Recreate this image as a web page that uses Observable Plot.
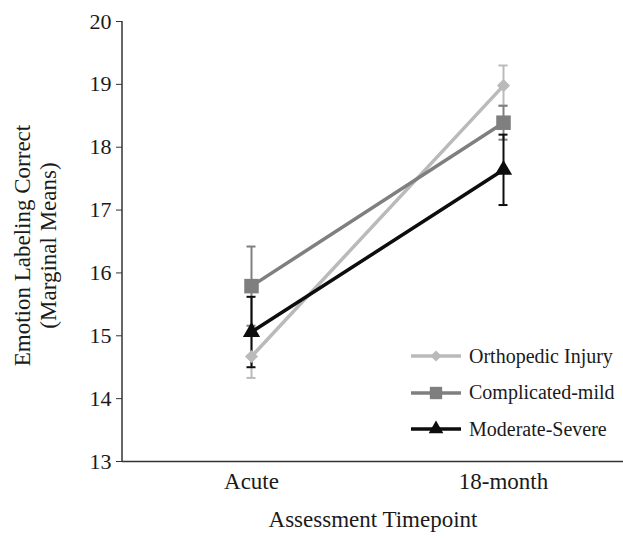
<!DOCTYPE html>
<html>
<head>
<meta charset="utf-8">
<script src="https://cdn.jsdelivr.net/npm/d3@7"></script>
<script src="https://cdn.jsdelivr.net/npm/@observablehq/plot@0.6"></script>
<style>
  html, body { margin: 0; padding: 0; background: #fff; }
  #wrap { position: relative; width: 623px; height: 539px; font-family: "Liberation Serif", "Times New Roman", serif; }
  #legend { position: absolute; left: 410px; top: 338px; color: #1a1a1a; font-size: 20px; }
  .item { display: flex; align-items: center; height: 36.5px; }
  .item svg { margin-right: 7px; }
</style>
</head>
<body>
<div id="wrap"></div>
<script>
const timepoints = ["Acute", "18-month"];
const groups = ["Orthopedic Injury", "Complicated-mild", "Moderate-Severe"];
const orthopedicMeans = [14.67, 18.98];
const orthopedicErrors = [0.34, 0.32];
const mildMeans = [15.79, 18.39];
const mildErrors = [0.63, 0.27];
const severeMeans = [15.06, 17.64];
const severeErrors = [0.56, 0.56];
const yTicks = [13, 14, 15, 16, 17, 18, 19, 20];
const groupColors = ["#bababa", "#7f7f7f", "#0d0d0d"];
const groupSymbols = ["diamond2", "square", "triangle"];
const groupRadius = [5.9, 8.2, 6.4];
const yTitle = "Emotion Labeling Correct\n(Marginal Means)";
const xTitle = "Assessment Timepoint";

const meansByGroup = [orthopedicMeans, mildMeans, severeMeans];
const errorsByGroup = [orthopedicErrors, mildErrors, severeErrors];
const rows = [];
groups.forEach((g, gi) => timepoints.forEach((t, ti) => {
  rows.push({group: g, gi, time: t, mean: meansByGroup[gi][ti],
    lo: meansByGroup[gi][ti] - errorsByGroup[gi][ti], hi: meansByGroup[gi][ti] + errorsByGroup[gi][ti]});
}));

const marks = [
  Plot.ruleY([13], {stroke: "#333", strokeWidth: 1.5}),
  Plot.axisY({ticks: yTicks, tickFormat: d => String(d), tickSize: 6, tickPadding: 5, fontSize: 22, label: null, stroke: "#333"}),
  Plot.axisX({tickSize: 0, tickPadding: 11, fontSize: 23, label: null}),
  Plot.text([yTitle], {frameAnchor: "left", textAnchor: "middle", rotate: -90, dx: -88, dy: 4, lineAnchor: "middle", lineHeight: 1.15, fontSize: 23, fill: "#1a1a1a"}),
  Plot.text([xTitle], {frameAnchor: "bottom", dy: 65, fontSize: 23, fill: "#1a1a1a"})
];
groups.forEach((g, gi) => {
  const d = rows.filter(r => r.gi === gi);
  marks.push(Plot.line(d, {x: "time", y: "mean", stroke: groupColors[gi], strokeWidth: 3.5}));
});
groups.forEach((g, gi) => {
  const d = rows.filter(r => r.gi === gi);
  marks.push(Plot.ruleX(d, {x: "time", y1: "lo", y2: "hi", stroke: groupColors[gi], strokeWidth: 2}));
  marks.push(Plot.ruleY(d, {y: "lo", x1: "time", x2: "time", insetLeft: -4.5, insetRight: -4.5, stroke: groupColors[gi], strokeWidth: 2}));
  marks.push(Plot.ruleY(d, {y: "hi", x1: "time", x2: "time", insetLeft: -4.5, insetRight: -4.5, stroke: groupColors[gi], strokeWidth: 2}));
});
groups.forEach((g, gi) => {
  const d = rows.filter(r => r.gi === gi);
  marks.push(Plot.dot(d, {x: "time", y: "mean", symbol: () => groupSymbols[gi], r: groupRadius[gi], fill: groupColors[gi], stroke: "none"}));
});

const chart = Plot.plot({
  width: 623, height: 539,
  marginLeft: 122, marginRight: 0, marginTop: 21, marginBottom: 78,
  style: {fontFamily: "'Liberation Serif', 'Times New Roman', serif", fontSize: "22px", color: "#1a1a1a", background: "#fff", overflow: "visible"},
  x: {type: "point", domain: timepoints, range: [251, 503], padding: 0, label: null, axis: null},
  y: {domain: [13, 20], label: null, axis: null},
  symbol: {type: "identity"},
  marks
});
const wrap = document.getElementById("wrap");
wrap.appendChild(chart);

// left axis line
const svg = d3.select(chart);
svg.append("line").attr("x1", 122).attr("x2", 122).attr("y1", 21).attr("y2", 461).attr("stroke", "#333").attr("stroke-width", 1.5);

// legend
const symMap = {"diamond2": d3.symbolDiamond2, "square": d3.symbolSquare, "triangle": d3.symbolTriangle};
const legend = document.createElement("div");
legend.id = "legend";
groups.forEach((g, gi) => {
  const item = document.createElement("div");
  item.className = "item";
  const s = d3.create("svg").attr("width", 52).attr("height", 20);
  s.append("line").attr("x1", 1).attr("x2", 51).attr("y1", 10).attr("y2", 10).attr("stroke", groupColors[gi]).attr("stroke-width", 3.5);
  s.append("path").attr("transform", "translate(26,10)")
    .attr("d", d3.symbol(symMap[groupSymbols[gi]], Math.PI * (groupRadius[gi] * 0.85) ** 2)())
    .attr("fill", groupColors[gi]);
  item.appendChild(s.node());
  const t = document.createElement("span");
  t.textContent = g;
  item.appendChild(t);
  legend.appendChild(item);
});
wrap.appendChild(legend);
</script>
</body>
</html>
